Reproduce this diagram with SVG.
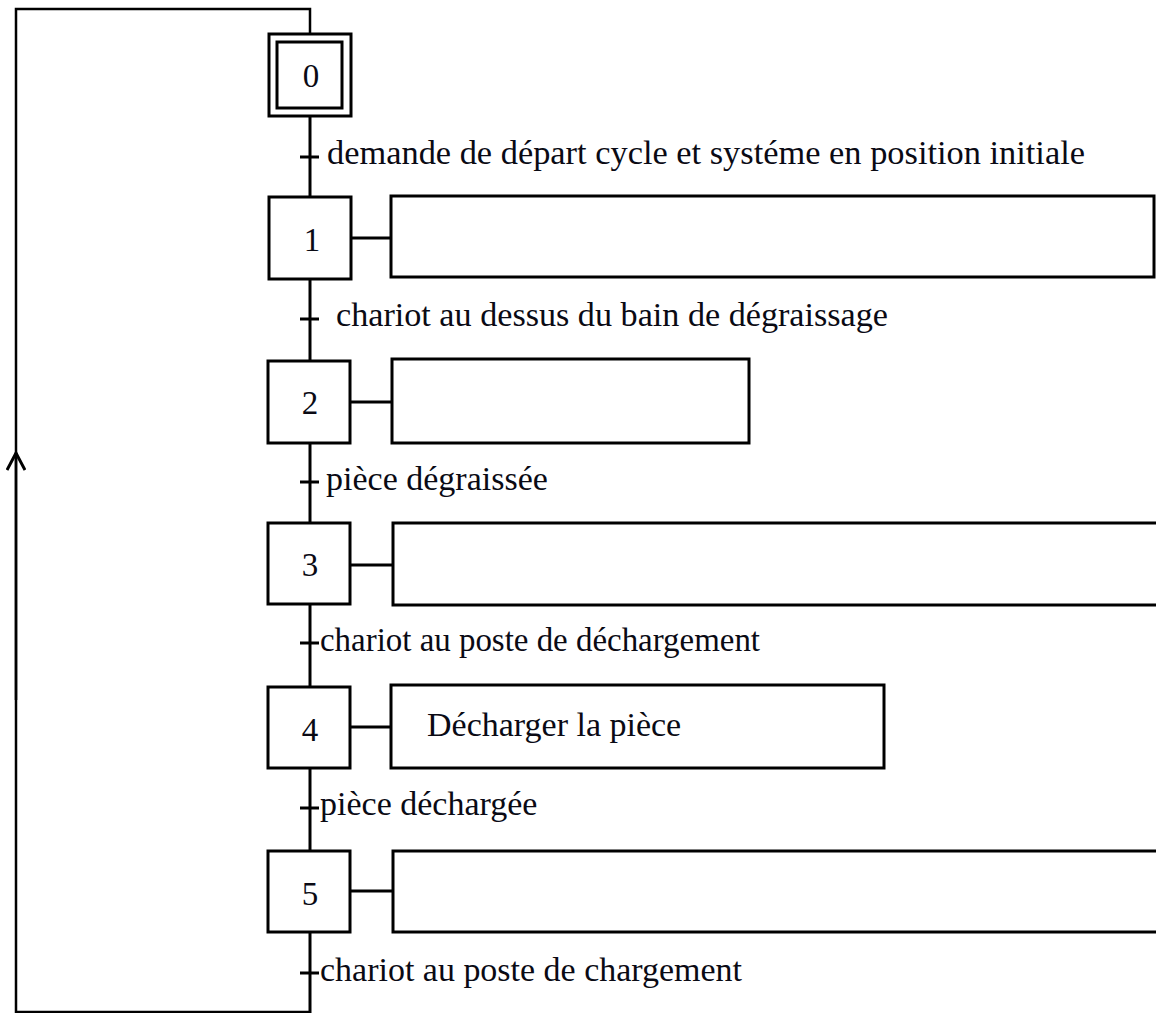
<svg xmlns="http://www.w3.org/2000/svg" width="1156" height="1013" viewBox="0 0 1156 1013">
<style>
.ln{fill:none;stroke:#000;stroke-width:3;}
.lp{fill:none;stroke:#000;stroke-width:2.5;}
.bx{fill:#fff;stroke:#000;stroke-width:3;}
.tx{font-family:"Liberation Serif","Times New Roman",serif;font-size:34px;fill:#0a0a14;}
.nm{font-family:"Liberation Serif","Times New Roman",serif;font-size:33px;fill:#0a0a14;text-anchor:middle;}
</style>
<defs>
<marker id="arr" viewBox="0 0 20 20" refX="18" refY="10" markerWidth="20" markerHeight="20" markerUnits="userSpaceOnUse" orient="auto">
<path d="M1,1 L18,10 L1,19" fill="none" stroke="#000" stroke-width="3"/>
</marker>
</defs>
<rect width="1156" height="1013" fill="#fff"/>
<g id="connectors">
<path class="lp" d="M310,34 V9 H16 V1012 H310"/>
<path class="lp" d="M16,700 V453" marker-end="url(#arr)"/>
<line class="ln" x1="310" y1="116" x2="310" y2="197"/>
<line class="ln" x1="310" y1="279" x2="310" y2="361"/>
<line class="ln" x1="310" y1="443" x2="310" y2="523"/>
<line class="ln" x1="310" y1="604" x2="310" y2="687"/>
<line class="ln" x1="310" y1="768" x2="310" y2="851"/>
<line class="ln" x1="310" y1="932" x2="310" y2="1013"/>
<g id="transitions">
<line class="ln" x1="300" y1="157" x2="319" y2="157"/>
<line class="ln" x1="300" y1="319" x2="319" y2="319"/>
<line class="ln" x1="300" y1="482" x2="319" y2="482"/>
<line class="ln" x1="300" y1="643" x2="319" y2="643"/>
<line class="ln" x1="300" y1="808" x2="319" y2="808"/>
<line class="ln" x1="300" y1="973" x2="319" y2="973"/>
</g>
<line class="ln" x1="351" y1="238" x2="391" y2="238"/>
<line class="ln" x1="350" y1="402" x2="392" y2="402"/>
<line class="ln" x1="350" y1="565" x2="393" y2="565"/>
<line class="ln" x1="350" y1="727" x2="391" y2="727"/>
<line class="ln" x1="350" y1="891" x2="393" y2="891"/>
</g>
<g id="labels">
<text class="tx" x="327" y="164" textLength="758" lengthAdjust="spacingAndGlyphs">demande de départ cycle et systéme en position initiale</text>
<text class="tx" x="336" y="326" textLength="552" lengthAdjust="spacingAndGlyphs">chariot au dessus du bain de dégraissage</text>
<text class="tx" x="326" y="490">pièce dégraissée</text>
<text class="tx" x="320" y="651" textLength="440" lengthAdjust="spacingAndGlyphs">chariot au poste de déchargement</text>
<text class="tx" x="320" y="815">pièce déchargée</text>
<text class="tx" x="320" y="981" textLength="422" lengthAdjust="spacingAndGlyphs">chariot au poste de chargement</text>
</g>
<g id="step0">
<rect class="bx" x="269" y="34" width="82" height="82"/>
<rect class="bx" x="277" y="42" width="65" height="66"/>
<text class="nm" x="311" y="87">0</text>
</g>
<g id="step1">
<rect class="bx" x="269" y="197" width="82" height="82"/>
<text class="nm" x="312" y="251">1</text>
</g>
<g id="action1"><rect class="bx" x="391" y="196" width="763" height="81"/></g>
<g id="step2">
<rect class="bx" x="268" y="361" width="82" height="82"/>
<text class="nm" x="310" y="414">2</text>
</g>
<g id="action2"><rect class="bx" x="392" y="359" width="357" height="84"/></g>
<g id="step3">
<rect class="bx" x="268" y="523" width="82" height="81"/>
<text class="nm" x="310" y="576">3</text>
</g>
<g id="action3"><rect class="bx" x="393" y="523" width="780" height="82"/></g>
<g id="step4">
<rect class="bx" x="268" y="687" width="82" height="81"/>
<text class="nm" x="310" y="741">4</text>
</g>
<g id="action4">
<rect class="bx" x="391" y="685" width="493" height="83"/>
<text class="tx" x="427" y="736">Décharger la pièce</text>
</g>
<g id="step5">
<rect class="bx" x="268" y="851" width="82" height="81"/>
<text class="nm" x="310" y="905">5</text>
</g>
<g id="action5"><rect class="bx" x="393" y="851" width="780" height="81"/></g>
</svg>
